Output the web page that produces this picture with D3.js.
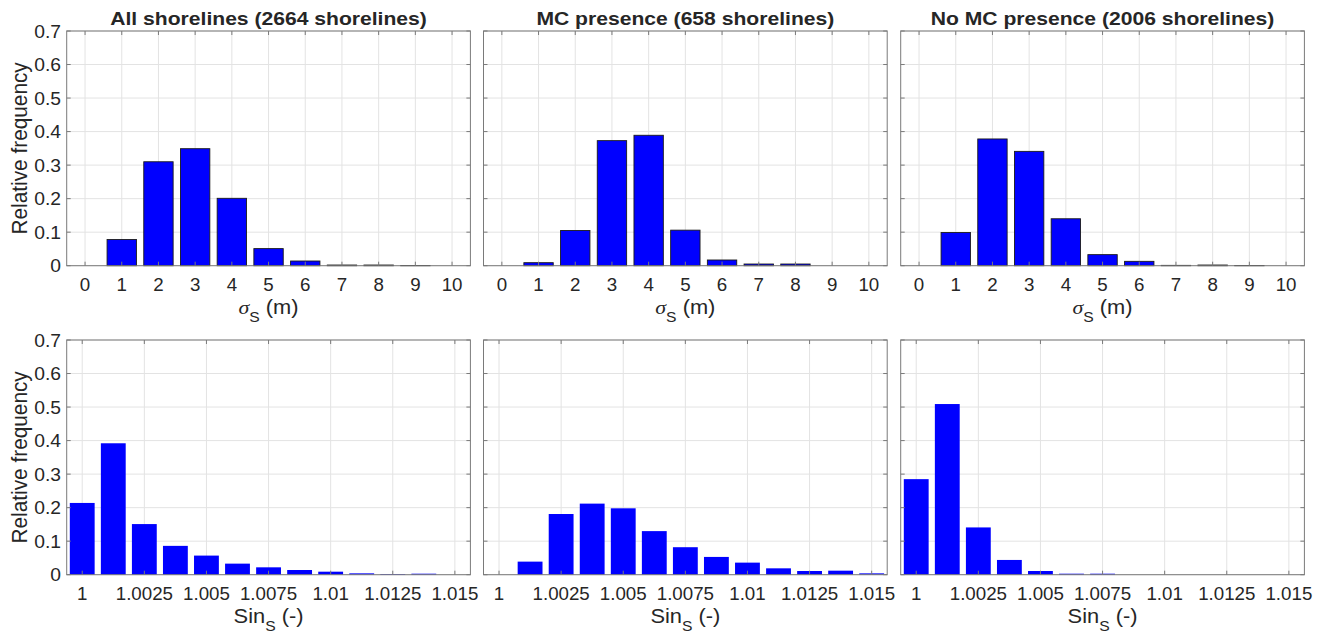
<!DOCTYPE html>
<html><head><meta charset="utf-8">
<script src="https://cdn.jsdelivr.net/npm/d3@7"></script>
<style>
body{margin:0;background:#fff}
svg{display:block}
text{font-family:"Liberation Sans",Arial,Helvetica,sans-serif;fill:#262626}
</style>
</head><body>
<svg id="chart" width="1326" height="637"></svg>
<script>
// ---------- data ----------
const titles = ["All shorelines (2664 shorelines)", "MC presence (658 shorelines)", "No MC presence (2006 shorelines)"];

const sigmaBins = [0, 1, 2, 3, 4, 5, 6, 7, 8, 9, 10];
const sigmaTicks = [0, 1, 2, 3, 4, 5, 6, 7, 8, 9, 10];
const sigmaTickLabels = ["0", "1", "2", "3", "4", "5", "6", "7", "8", "9", "10"];
const sigmaAll  = [0, 0.078, 0.310, 0.349, 0.201, 0.051, 0.014, 0.002, 0.002, 0.0005, 0];
const sigmaMC   = [0, 0.009, 0.105, 0.373, 0.389, 0.106, 0.017, 0.005, 0.005, 0, 0];
const sigmaNoMC = [0, 0.099, 0.378, 0.341, 0.140, 0.033, 0.013, 0.001, 0.002, 0.0005, 0];

const sinBins = [1, 1.00125, 1.0025, 1.00375, 1.005, 1.00625, 1.0075, 1.00875, 1.01, 1.01125, 1.0125, 1.01375, 1.015];
const sinTicks = [1, 1.0025, 1.005, 1.0075, 1.01, 1.0125, 1.015];
const sinTickLabels = ["1", "1.0025", "1.005", "1.0075", "1.01", "1.0125", "1.015"];
const sinAll  = [0.214, 0.392, 0.151, 0.086, 0.057, 0.033, 0.022, 0.014, 0.009, 0.004, 0.002, 0.003, 0];
const sinMC   = [0, 0.039, 0.181, 0.212, 0.198, 0.130, 0.082, 0.053, 0.036, 0.019, 0.011, 0.012, 0.004];
const sinNoMC = [0.285, 0.509, 0.141, 0.044, 0.011, 0.003, 0.003, 0, 0, 0, 0, 0, 0];

const yTicks = [0, 0.1, 0.2, 0.3, 0.4, 0.5, 0.6, 0.7];
const yTickLabels = ["0", "0.1", "0.2", "0.3", "0.4", "0.5", "0.6", "0.7"];
const yLabel = "Relative frequency";

// ---------- layout ----------
const panelLeft = [66.7, 483.5, 900.7];
const panelW = 403.7;
const rowTop = [31, 340];
const panelH = 234.7;
const tickLen = 4;

const svg = d3.select("#chart");

function txt(parent, x, y, str, size, anchor, weight, sx) {
  return parent.append("text")
    .attr("transform", `translate(${x},${y}) scale(${sx},1)`)
    .attr("text-anchor", anchor || "middle")
    .attr("font-size", size)
    .attr("font-weight", weight || "normal")
    .text(str);
}

function panel(col, row, cfg) {
  const x0 = panelLeft[col], y0 = rowTop[row];
  const g = svg.append("g").attr("transform", `translate(${x0},${y0})`);
  const x = d3.scaleLinear().domain(cfg.domain).range([0, panelW]);
  const y = d3.scaleLinear().domain([0, 0.7]).range([panelH, 0]);

  // grid
  g.append("g").selectAll("line.gx").data(cfg.ticks).join("line")
    .attr("x1", d => x(d)).attr("x2", d => x(d)).attr("y1", 0).attr("y2", panelH)
    .attr("stroke", "#e3e3e3").attr("stroke-width", 1);
  g.append("g").selectAll("line.gy").data(yTicks).join("line")
    .attr("x1", 0).attr("x2", panelW).attr("y1", d => y(d)).attr("y2", d => y(d))
    .attr("stroke", "#e3e3e3").attr("stroke-width", 1);

  // bars
  const step = x(cfg.bins[1]) - x(cfg.bins[0]);
  const bw = step * 0.8;
  g.append("g").selectAll("rect").data(cfg.values.map((v, i) => ({b: cfg.bins[i], v})))
    .join("rect")
    .attr("x", d => x(d.b) - bw / 2)
    .attr("width", bw)
    .attr("y", d => y(d.v))
    .attr("height", d => y(0) - y(d.v))
    .attr("fill", "#0000ff")
    .attr("stroke", cfg.edge ? "#1a1a1a" : "none")
    .attr("stroke-width", cfg.edge ? 0.9 : 0);

  // box
  g.append("rect").attr("x", 0).attr("y", 0).attr("width", panelW).attr("height", panelH)
    .attr("fill", "none").attr("stroke", "#7a7a7a").attr("stroke-width", 1);

  // tick marks (inward, all sides)
  const tk = g.append("g").attr("stroke", "#7a7a7a").attr("stroke-width", 1);
  cfg.ticks.forEach(t => {
    tk.append("line").attr("x1", x(t)).attr("x2", x(t)).attr("y1", panelH).attr("y2", panelH - tickLen);
    tk.append("line").attr("x1", x(t)).attr("x2", x(t)).attr("y1", 0).attr("y2", tickLen);
  });
  yTicks.forEach(t => {
    tk.append("line").attr("x1", 0).attr("x2", tickLen).attr("y1", y(t)).attr("y2", y(t));
    tk.append("line").attr("x1", panelW).attr("x2", panelW - tickLen).attr("y1", y(t)).attr("y2", y(t));
  });

  // x tick labels
  cfg.ticks.forEach((t, i) => txt(g, x(t), panelH + 25.3, cfg.tickLabels[i], 17.5, "middle", "normal", 1.07));

  // y tick labels (leftmost only)
  if (col === 0) {
    yTicks.forEach((t, i) => txt(g, -5.7, y(t) + 6.5, yTickLabels[i], 17.5, "end", "normal", 1.1));
    g.append("text")
      .attr("transform", `translate(${27.5 - x0},${panelH / 2}) scale(1.1,1) rotate(-90)`)
      .attr("text-anchor", "middle").attr("font-size", 20.8).text(yLabel);
  }

  // title
  if (cfg.title) txt(g, panelW / 2, -6, cfg.title, 17.6, "middle", "bold", 1.2);

  // x label with subscript
  const xl = g.append("text")
    .attr("transform", `translate(${panelW / 2},${panelH + 48}) scale(1.12,1)`)
    .attr("text-anchor", "middle").attr("font-size", 19.5);
  if (cfg.xlabel === "sigma") {
    xl.append("tspan").attr("font-family", "'Liberation Serif','Times New Roman',serif")
      .attr("font-style", "italic").text("σ");
  } else {
    xl.append("tspan").text("Sin");
  }
  xl.append("tspan").attr("font-size", 14).attr("dy", 8).text("S");
  xl.append("tspan").attr("dy", -8).text(cfg.xlabel === "sigma" ? " (m)" : " (-)");
}

const sigmaSets = [sigmaAll, sigmaMC, sigmaNoMC];
const sinSets = [sinAll, sinMC, sinNoMC];

sigmaSets.forEach((vals, c) => panel(c, 0, {
  domain: [-0.5, 10.5], bins: sigmaBins, values: vals, ticks: sigmaTicks,
  tickLabels: sigmaTickLabels, edge: true, title: titles[c], xlabel: "sigma"
}));
sinSets.forEach((vals, c) => panel(c, 1, {
  domain: [0.999375, 1.015625], bins: sinBins, values: vals, ticks: sinTicks,
  tickLabels: sinTickLabels, edge: false, title: null, xlabel: "sin"
}));
</script>
</body></html>
